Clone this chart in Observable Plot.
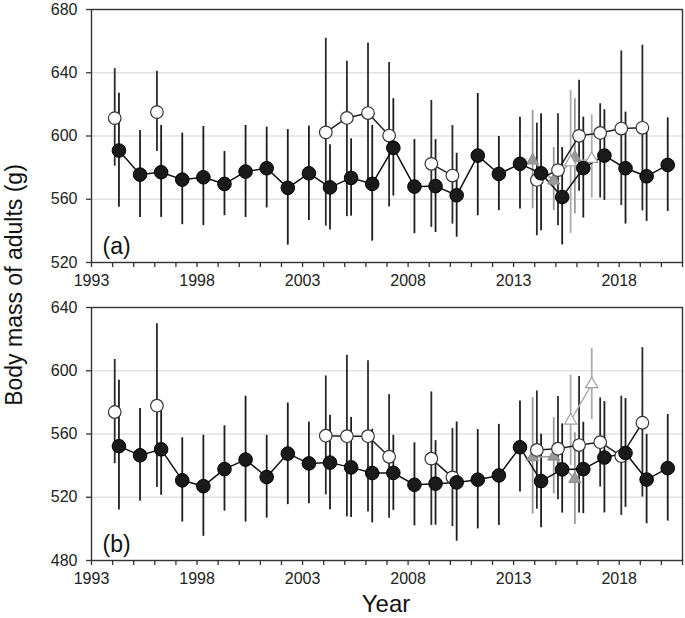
<!DOCTYPE html>
<html>
<head>
<meta charset="utf-8">
<script src="https://cdn.jsdelivr.net/npm/d3@7"></script>
<script src="https://cdn.jsdelivr.net/npm/@observablehq/plot@0.6"></script>
<style>
  html, body { margin: 0; padding: 0; background: #fff; }
  #wrap { position: relative; width: 685px; height: 618px; font-family: "Liberation Sans", Arial, sans-serif; }
  #wrap > div.p { position: absolute; left: 0; }
  .ylab { position: absolute; left: 14px; top: 285px; transform: translate(-50%, -50%) rotate(-90deg); font-size: 23px; white-space: nowrap; color: #111; }
  .xlab { position: absolute; left: 386px; top: 604px; transform: translate(-50%, -50%); font-size: 24px; color: #111; }
</style>
</head>
<body>
<div id="wrap">
  <div class="p" id="pa" style="top:0px"></div>
  <div class="p" id="pb" style="top:297px"></div>
  <div class="ylab">Body mass of adults (g)</div>
  <div class="xlab">Year</div>
</div>
<script>
// ---------- data ----------
const blackYears = [1994,1995,1996,1997,1998,1999,2000,2001,2002,2003,2004,2005,2006,2007,2008,2009,2010,2011,2012,2013,2014,2015,2016,2017,2018,2019,2020];
const whiteYears = [1994,1996,2004,2005,2006,2007,2009,2010,2014,2015,2016,2017,2018,2019];
const grayYears = [2014,2015,2016];
const openTriYears = [2016,2017];

// Panel (a)
const blackA   = [590.8,575.6,577.1,572.4,573.9,569.7,577.5,579.6,567.2,576.4,567.5,573.5,569.7,592.5,568.0,568.3,562.5,587.6,576.0,582.4,576.4,561.4,579.7,587.6,579.6,574.5,581.7];
const blackAHi = [627.1,603.5,606.7,601.8,606.0,590.2,606.7,605.6,604.1,606.3,594.5,598.2,606.7,623.6,597.7,597.7,589.1,626.9,599.7,611.9,614.1,592.7,611.9,616.6,615.1,602.4,611.5];
const blackALo = [554.9,548.5,548.5,543.9,543.3,549.6,548.5,554.5,531.0,546.5,540.5,549.3,533.5,562.0,538.2,539.0,536.0,549.6,552.8,553.9,540.1,531.1,548.1,559.3,544.3,546.0,552.3];
const whiteA   = [611.3,615.1,602.3,611.4,614.5,600.3,582.4,575.0,572.2,578.4,600.1,601.9,604.7,605.2];
const whiteAHi = [642.6,640.9,661.8,647.3,658.8,646.5,622.5,606.6,608.1,614.1,635.2,620.4,653.8,657.4];
const whiteALo = [580.9,590.2,543.0,549.0,570.0,555.1,542.2,544.3,536.9,543.3,565.0,560.8,556.0,552.7];
const grayA    = [584.5,571.8,586.5];
const grayAHi  = [616.2,592.7,623.6];
const grayALo  = [553.9,552.8,550.7];
const openTriA   = [583.4,585.5];
const openTriAHi = [628.8,613.4];
const openTriALo = [538.4,560.8];

// Panel (b)
const blackB   = [552.3,546.5,550.3,530.7,527.0,537.8,543.8,532.8,547.6,541.4,541.9,538.9,535.3,535.4,527.9,528.6,529.4,531.1,533.8,551.6,530.2,537.6,537.8,545.1,548.0,531.2,538.4];
const blackBHi = [594.0,576.1,576.5,557.6,559.2,565.2,583.9,559.2,579.6,567.6,571.8,570.5,563.0,559.2,554.4,555.8,567.6,562.8,566.1,580.9,559.8,566.4,567.4,580.5,582.4,559.8,572.3];
const blackBLo = [511.9,517.4,521.2,504.3,495.3,511.2,504.3,506.8,515.3,515.9,512.1,507.2,503.8,511.7,501.9,502.3,492.2,500.0,502.2,523.3,500.7,510.0,509.6,510.1,513.6,503.2,504.9];
const whiteB   = [573.9,577.9,558.9,558.6,558.6,545.6,544.4,532.6,549.9,550.7,553.0,554.8,546.0,567.1];
const whiteBHi = [607.1,629.7,596.7,609.8,606.4,584.9,586.6,563.4,587.2,583.7,596.3,582.8,583.9,614.6];
const whiteBLo = [541.2,526.2,521.5,507.6,510.6,506.7,502.2,501.4,512.4,518.4,510.0,526.4,508.5,520.1];
const grayB    = [545.3,545.7,531.5];
const grayBHi  = [583.0,570.4,560.8];
const grayBLo  = [509.4,522.0,502.7];
const openTriB   = [568.5,591.5];
const openTriBHi = [597.2,614.2];
const openTriBLo = [540.2,569.1];

const xTicks = d3.range(1993, 2022);
const yTicksA = [520,560,600,640,680];
const yTicksB = [480,520,560,600,640];

// ---------- helpers ----------
function rows(years, mean, hi, lo, offset) {
  let seg = 0;
  return years.map((yr, i) => {
    if (i > 0 && yr - years[i-1] > 1) seg++;
    return {x: yr + offset, y: mean[i], hi: hi[i], lo: lo[i], seg};
  });
}

function panel(cfg) {
  const black = rows(blackYears, cfg.black, cfg.blackHi, cfg.blackLo, 0.3);
  const white = rows(whiteYears, cfg.white, cfg.whiteHi, cfg.whiteLo, 0.1);
  const gray  = rows(grayYears, cfg.gray, cfg.grayHi, cfg.grayLo, -0.1);
  const otri  = rows(openTriYears, cfg.otri, cfg.otriHi, cfg.otriLo, -0.3);
  const yd = [cfg.yTicks[0], cfg.yTicks[cfg.yTicks.length-1]];
  return Plot.plot({
    width: 685,
    height: cfg.height,
    marginTop: cfg.marginTop,
    marginBottom: cfg.marginBottom,
    marginLeft: 91,
    marginRight: 3,
    style: {fontFamily: "Liberation Sans, Arial, sans-serif", fontSize: "16px", color: "#222", background: "white"},
    x: {domain: [1993, 2021]},
    y: {domain: yd},
    marks: [
      Plot.gridY(cfg.yTicks.slice(1, -1), {stroke: "#e2e2e2", strokeOpacity: 1, strokeWidth: 1.5}),
      Plot.axisX(xTicks, {tickSize: 5, tickPadding: 7, stroke: "#333", strokeWidth: 1.3, fill: "#222", fontSize: 16,
        tickFormat: d => ((d - 1993) % 5 === 0 ? String(d) : ""), label: null}),
      Plot.axisY(cfg.yTicks, {tickSize: 5, tickPadding: 9, stroke: "#333", strokeWidth: 1.3, fill: "#222", fontSize: 16,
        tickFormat: d => String(d), label: null}),
      // error bars
      Plot.ruleX(gray, {x: "x", y1: "lo", y2: "hi", stroke: "#9a9a9a", strokeWidth: 1.8}),
      Plot.ruleX(otri, {x: "x", y1: "lo", y2: "hi", stroke: "#ababab", strokeWidth: 1.8}),
      Plot.ruleX(white, {x: "x", y1: "lo", y2: "hi", stroke: "#2a2a2a", strokeWidth: 1.8}),
      Plot.ruleX(black, {x: "x", y1: "lo", y2: "hi", stroke: "#1e1e1e", strokeWidth: 1.8}),
      // lines
      Plot.line(gray, {x: "x", y: "y", z: "seg", stroke: "#9a9a9a", strokeWidth: 1.5}),
      Plot.line(otri, {x: "x", y: "y", z: "seg", stroke: "#b0b0b0", strokeWidth: 1.5}),
      Plot.line(white, {x: "x", y: "y", z: "seg", stroke: "#222", strokeWidth: 1.5}),
      Plot.line(black, {x: "x", y: "y", z: "seg", stroke: "#111", strokeWidth: 1.5}),
      // symbols
      Plot.dot(gray, {x: "x", y: "y", symbol: "triangle", r: 4.5, fill: "#9a9a9a", stroke: "#8a8a8a", strokeWidth: 1}),
      Plot.dot(otri, {x: "x", y: "y", symbol: "triangle", r: 4.5, fill: "white", stroke: "#a0a0a0", strokeWidth: 1.2}),
      Plot.dot(white, {x: "x", y: "y", r: 6.3, fill: "white", stroke: "#333", strokeWidth: 1.2}),
      Plot.dot(black, {x: "x", y: "y", r: 6.8, fill: "#1a1a1a", stroke: "#000", strokeWidth: 1}),
      Plot.frame({stroke: "#333", strokeWidth: 1.4}),
      Plot.text([cfg.tag], {frameAnchor: "bottom-left", textAnchor: "start", lineAnchor: "bottom", dx: 11, dy: -9, fontSize: 23, fill: "#111"})
    ]
  });
}

document.getElementById("pa").appendChild(panel({
  height: 297, marginTop: 9, marginBottom: 35, yTicks: yTicksA, tag: "(a)",
  black: blackA, blackHi: blackAHi, blackLo: blackALo,
  white: whiteA, whiteHi: whiteAHi, whiteLo: whiteALo,
  gray: grayA, grayHi: grayAHi, grayLo: grayALo,
  otri: openTriA, otriHi: openTriAHi, otriLo: openTriALo
}));
document.getElementById("pb").appendChild(panel({
  height: 321, marginTop: 10, marginBottom: 58, yTicks: yTicksB, tag: "(b)",
  black: blackB, blackHi: blackBHi, blackLo: blackBLo,
  white: whiteB, whiteHi: whiteBHi, whiteLo: whiteBLo,
  gray: grayB, grayHi: grayBHi, grayLo: grayBLo,
  otri: openTriB, otriHi: openTriBHi, otriLo: openTriBLo
}));
</script>
</body>
</html>
